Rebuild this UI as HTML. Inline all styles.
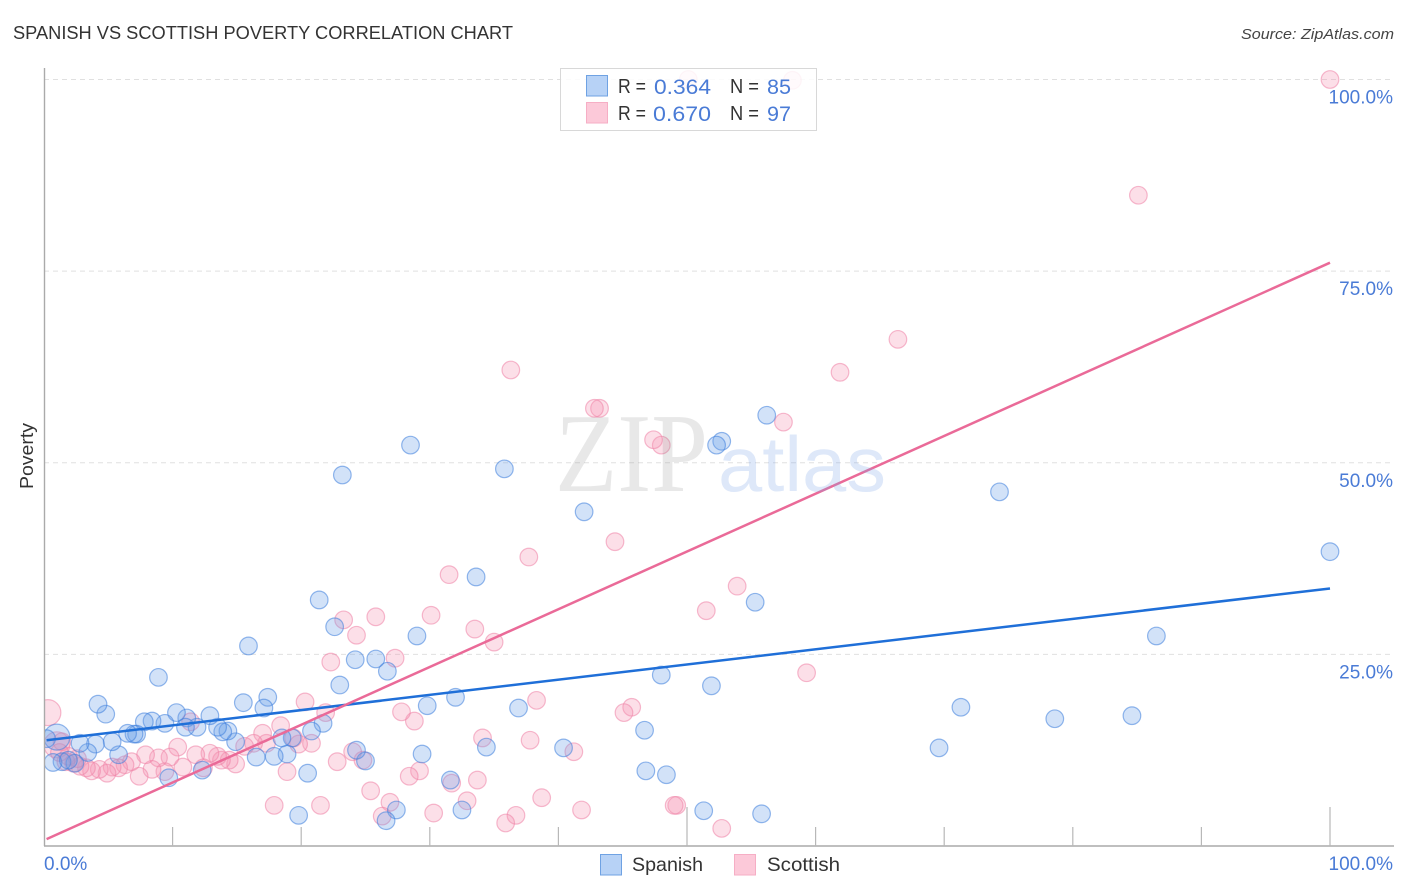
<!DOCTYPE html>
<html>
<head>
<meta charset="utf-8">
<title>Spanish vs Scottish Poverty Correlation Chart</title>
<style>
html,body{margin:0;padding:0;background:#fff;width:1406px;height:892px;overflow:hidden}
svg{display:block;font-family:"Liberation Sans",sans-serif}
</style>
</head>
<body>
<svg id="chart" xmlns="http://www.w3.org/2000/svg" width="1406" height="892" viewBox="0 0 1406 892">
<rect width="1406" height="892" fill="#fff"/>
<g id="grid"></g>
<g id="scottish-points"></g>
<g id="spanish-points"></g>
<rect x="0" y="60" width="44.5" height="790" fill="#fff"/>
<g id="axes"></g>
<text x="13" y="39" font-size="18" fill="#333" textLength="500" lengthAdjust="spacingAndGlyphs">SPANISH VS SCOTTISH POVERTY CORRELATION CHART</text>
<text x="1241" y="39" font-size="15" font-style="italic" fill="#444" textLength="153" lengthAdjust="spacingAndGlyphs">Source: ZipAtlas.com</text>
<text transform="translate(33,456) rotate(-90)" text-anchor="middle" font-size="18" fill="#333" textLength="66" lengthAdjust="spacingAndGlyphs">Poverty</text>
<g id="trends"></g>
<g>
<text x="555" y="491" font-family="'Liberation Serif',serif" font-size="112" fill="#8c8c8c" fill-opacity=".2" textLength="153" lengthAdjust="spacingAndGlyphs">ZIP</text>
<text x="718" y="491" font-size="78" fill="#7fa8e6" fill-opacity=".26" textLength="168" lengthAdjust="spacingAndGlyphs">atlas</text>
</g>
<g id="y-labels" font-size="19" fill="#4a7bd6" text-anchor="end"></g>
<g id="x-labels" font-size="19" fill="#4a7bd6"></g>
<g>
<rect x="560.5" y="68.5" width="256" height="62" fill="#fff" fill-opacity=".85" stroke="#d8d8d8"/>
<rect x="586.5" y="75.5" width="21" height="20.5" fill="#b7d2f6" stroke="#6fa2e3"/>
<rect x="586.5" y="102.5" width="21" height="20.5" fill="#fcc9d9" stroke="#f6aec5"/>
<g font-size="20" fill="#333">
<text x="618" y="93" textLength="28" lengthAdjust="spacingAndGlyphs">R =</text>
<text x="730" y="93" textLength="29" lengthAdjust="spacingAndGlyphs">N =</text>
<text x="618" y="120" textLength="28" lengthAdjust="spacingAndGlyphs">R =</text>
<text x="730" y="120" textLength="29" lengthAdjust="spacingAndGlyphs">N =</text>
</g>
<g font-size="21" fill="#4a7bd6">
<text x="654" y="94" textLength="57" lengthAdjust="spacingAndGlyphs">0.364</text>
<text x="767" y="94" textLength="24" lengthAdjust="spacingAndGlyphs">85</text>
<text x="653" y="121" textLength="58" lengthAdjust="spacingAndGlyphs">0.670</text>
<text x="767" y="121" textLength="24" lengthAdjust="spacingAndGlyphs">97</text>
</g>
</g>
<g>
<rect x="600.5" y="854.5" width="21" height="20.5" fill="#b7d2f6" stroke="#6fa2e3"/>
<text x="632" y="871" font-size="19.5" fill="#333" textLength="71" lengthAdjust="spacingAndGlyphs">Spanish</text>
<rect x="734.5" y="854.5" width="21" height="20.5" fill="#fcc9d9" stroke="#f6aec5"/>
<text x="767" y="871" font-size="19.5" fill="#333" textLength="73" lengthAdjust="spacingAndGlyphs">Scottish</text>
</g>
</svg>
<script>
const yTickValues = [25, 50, 75, 100];
const yTickLabels = ["25.0%", "50.0%", "75.0%", "100.0%"];
const xTickValues = [10, 20, 30, 40, 50, 60, 70, 80, 90, 100];
const xMajorTicks = [50, 100];
const xEndLabels = ["0.0%", "100.0%"];

const spanishX = [100,86.5,84.6,78.6,74.3,71.3,69.6,56.2,55.3,55.8,52.7,52.3,51.9,51.3,48.4,48.0,46.8,46.7,42.0,40.4,36.9,35.8,34.4,33.6,32.5,32.0,31.6,29.8,29.4,29.0,28.5,27.4,26.7,26.6,25.8,25.0,24.3,24.2,23.2,23.0,22.6,21.7,21.4,20.8,20.5,19.8,19.3,18.9,18.5,17.9,17.4,17.1,15.9,15.5,16.5,14.9,14.3,13.9,13.5,12.9,12.3,11.9,11.1,11.0,10.3,9.7,9.4,8.9,8.4,7.8,7.2,7.0,6.5,5.8,5.3,4.8,4.2,4.0,3.4,2.8,2.4,1.4,0.7,1.9,0.2];
const spanishY = [38.4,27.4,17.0,16.6,46.2,18.1,12.8,56.2,31.8,4.2,52.8,52.3,20.9,4.6,9.3,22.3,9.8,15.1,43.6,12.8,18.0,49.2,12.9,35.1,4.7,19.4,8.6,18.3,12.0,27.4,52.3,4.7,22.8,3.3,24.4,11.1,12.5,24.3,48.4,21.0,28.6,16.0,32.1,15.0,9.5,4.0,14.1,12.0,14.1,11.7,19.4,18.0,26.1,18.7,11.6,13.6,15.0,14.9,15.5,17.0,9.9,15.5,16.7,15.5,17.4,8.9,16.0,22.0,16.3,16.2,14.6,14.6,14.7,11.9,13.6,17.2,18.5,13.3,12.2,13.4,10.8,11.0,10.9,11.2,14.0];
const spanishLargeX = [1.0];
const spanishLargeY = [14.2];

const scottishX = [100,85.1,66.4,61.9,59.3,58.2,57.5,53.9,52.7,51.5,49.2,49.0,50.1,48.0,47.4,45.7,45.1,44.4,43.2,42.8,41.8,41.2,38.7,38.3,37.8,37.7,36.7,36.3,35.9,35.0,34.1,33.7,33.5,32.9,31.7,31.5,30.3,30.1,29.2,28.8,28.4,27.8,27.3,26.9,26.3,25.8,25.4,24.8,24.0,24.3,23.3,22.8,22.3,21.9,21.5,20.8,20.3,19.8,19.4,18.9,18.4,17.9,17.3,17.0,16.3,15.6,14.9,14.4,13.8,13.5,12.9,11.8,12.4,10.8,11.4,10.4,9.8,9.4,8.9,8.4,7.9,7.4,6.8,6.3,5.8,5.3,4.9,4.3,3.7,3.3,2.8,2.3,1.9,1.4,2.6,1.7,1.2];
const scottishY = [100,84.9,66.1,61.8,22.6,99.9,55.3,33.9,2.3,30.7,5.3,5.3,100,52.3,53.0,18.1,17.4,39.7,57.1,57.1,4.7,12.3,6.3,19.0,13.8,37.7,4.0,62.1,3.0,26.6,14.1,8.6,28.3,5.9,8.2,35.4,4.3,30.1,9.8,16.3,9.1,17.5,24.5,5.7,3.9,29.9,7.2,11.2,12.3,27.5,29.5,11.0,24.0,17.4,5.3,13.4,18.8,13.3,14.1,9.7,15.7,5.3,13.4,14.7,13.4,13.0,10.7,11.2,11.2,11.7,12.1,11.9,10.2,10.3,16.2,12.9,11.6,9.7,11.5,10.0,11.9,9.1,11.0,10.6,10.2,10.3,9.5,10.0,9.8,10.2,10.4,10.8,11.7,13.6,11.4,11.0,12.2];
const scottishLargeX = [0.3, 1.0];
const scottishLargeY = [17.4, 13.2];

const trendX = [0.2, 100];
const spanishTrendY = [13.8, 33.6];
const scottishTrendY = [0.9, 76.1];

const SVG_NS = "http://www.w3.org/2000/svg";
const xScale = v => 44 + v * 12.86;
const yScale = v => 846 - v * 7.665;
function make(tag, parentId, attrs) {
  const el = document.createElementNS(SVG_NS, tag);
  for (const k in attrs) el.setAttribute(k, attrs[k]);
  document.getElementById(parentId).appendChild(el);
  return el;
}

yTickValues.forEach((v, i) => {
  const line = make("line", "grid", {x1: 44, x2: 1394, y1: yScale(v), y2: yScale(v), stroke: "#e0e0e0", "stroke-width": 1, "stroke-dasharray": "5 4"});
  
  
  const label = make("text", "y-labels", {x: 1393, y: yScale(v) + 24});
  label.textContent = yTickLabels[i];
  
  
});

const leftAxis = make("line", "axes", {x1: 44.5, x2: 44.5, y1: 68, y2: 846, stroke: "#aaa", "stroke-width": 1.4});


const bottomAxis = make("line", "axes", {x1: 44, x2: 1394, y1: 846, y2: 846, stroke: "#aaa", "stroke-width": 1.4});


xTickValues.forEach(v => {
  const top = xMajorTicks.includes(v) ? 807 : 827;
  const tick = make("line", "axes", {x1: xScale(v), x2: xScale(v), y1: top, y2: 846, stroke: "#b8b8b8", "stroke-width": 1.2});
  
  
});

const xLabelLeft = make("text", "x-labels", {x: 44, y: 870});
xLabelLeft.textContent = xEndLabels[0];


const xLabelRight = make("text", "x-labels", {x: 1393, y: 870, "text-anchor": "end"});
xLabelRight.textContent = xEndLabels[1];



function drawPoints(parentId, xs, ys, r, fill, stroke) {
  xs.forEach((x, i) => {
    const c = make("circle", parentId, {cx: xScale(x), cy: yScale(ys[i]), r: r, fill: fill, stroke: stroke, "stroke-width": 1.2});
    
    
  });
}
const pinkFill = "rgba(246,150,178,.3)", pinkStroke = "rgba(238,130,165,.55)";
const blueFill = "rgba(105,160,232,.3)", blueStroke = "rgba(60,125,220,.55)";
drawPoints("scottish-points", scottishLargeX, scottishLargeY, 13, pinkFill, pinkStroke);
drawPoints("scottish-points", scottishX, scottishY, 8.8, pinkFill, pinkStroke);
drawPoints("spanish-points", spanishLargeX, spanishLargeY, 13, blueFill, blueStroke);
drawPoints("spanish-points", spanishX, spanishY, 8.8, blueFill, blueStroke);

const spanishTrend = make("line", "trends", {x1: xScale(trendX[0]), y1: yScale(spanishTrendY[0]), x2: xScale(trendX[1]), y2: yScale(spanishTrendY[1]), stroke: "#1f6fd8", "stroke-width": 2.5});


const scottishTrend = make("line", "trends", {x1: xScale(trendX[0]), y1: yScale(scottishTrendY[0]), x2: xScale(trendX[1]), y2: yScale(scottishTrendY[1]), stroke: "#ea6a98", "stroke-width": 2.5});


</script>
</body>
</html>
